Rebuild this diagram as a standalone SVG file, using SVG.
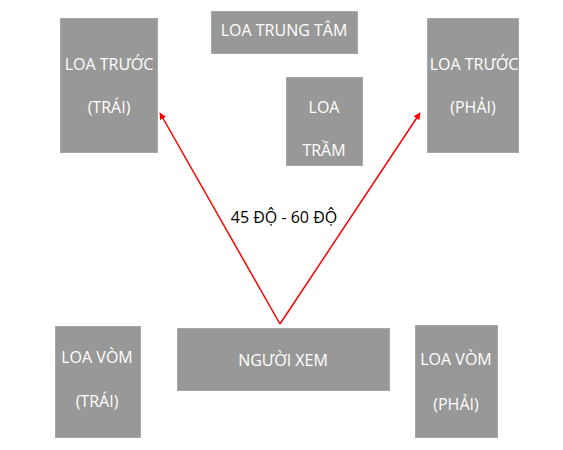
<svg xmlns="http://www.w3.org/2000/svg" width="563" height="450" viewBox="0 0 563 450">
<defs>
<style>
.box{fill:#989898;stroke:#a8a8a8;stroke-width:1}
.t{font-family:"Open Sans","Noto Sans",sans-serif;font-size:16px;fill:#ffffff;text-anchor:middle}
.lbl{font-family:"Open Sans","Noto Sans",sans-serif;font-size:16px;fill:#000000;text-anchor:middle}
.arr{stroke:#ff0000;stroke-width:1.5;fill:none}
</style>
<marker id="ah" viewBox="0 0 10 10" refX="9" refY="5" markerWidth="7" markerHeight="7" orient="auto" markerUnits="userSpaceOnUse">
<path d="M0,0 L10,5 L0,10 z" fill="#ff0000"/>
</marker>
</defs>
<rect width="563" height="450" fill="#ffffff"/>
<g id="front-left">
<rect class="box" x="60.5" y="18.5" width="97" height="134"/>
<text class="t" x="109" y="70">LOA TRƯỚC</text>
<text class="t" x="109" y="113">(TRÁI)</text>
</g>
<g id="center">
<rect class="box" x="211.5" y="11.5" width="146" height="42"/>
<text class="t" x="284" y="36">LOA TRUNG TÂM</text>
</g>
<g id="sub">
<rect class="box" x="286.5" y="77.5" width="76" height="88"/>
<text class="t" x="324" y="113">LOA</text>
<text class="t" x="324" y="156">TRẦM</text>
</g>
<g id="front-right">
<rect class="box" x="427.5" y="18.5" width="91" height="134"/>
<text class="t" x="474" y="70">LOA TRƯỚC</text>
<text class="t" x="473" y="113">(PHẢI)</text>
</g>
<g id="surround-left">
<rect class="box" x="55.5" y="326.5" width="85" height="111"/>
<text class="t" x="97" y="363">LOA VÒM</text>
<text class="t" x="97" y="407">(TRÁI)</text>
</g>
<g id="viewer">
<rect class="box" x="177.5" y="328.5" width="212" height="62"/>
<text class="t" x="283" y="366">NGƯỜI XEM</text>
</g>
<g id="surround-right">
<rect class="box" x="415.5" y="325.5" width="82" height="112"/>
<text class="t" x="456" y="365">LOA VÒM</text>
<text class="t" x="456" y="410">(PHẢI)</text>
</g>
<g id="connectors">
<line class="arr" x1="280" y1="324" x2="160" y2="113" marker-end="url(#ah)"/>
<line class="arr" x1="280" y1="324" x2="420" y2="113" marker-end="url(#ah)"/>
</g>
<text class="lbl" x="284" y="223">45 ĐỘ - 60 ĐỘ</text>
</svg>
